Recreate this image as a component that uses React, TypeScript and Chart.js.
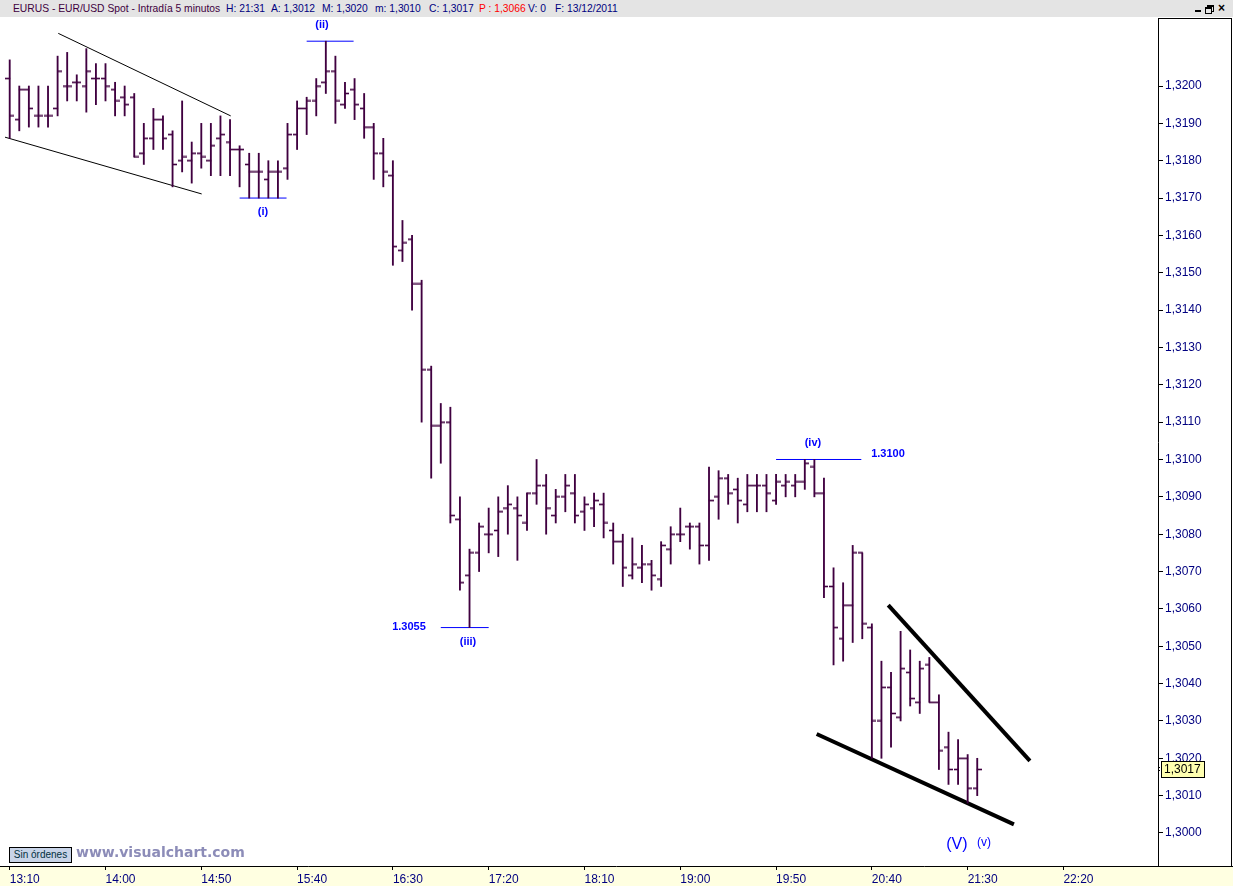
import React, { useEffect, useRef } from 'react';
import { Chart, registerables } from 'chart.js';

Chart.register(...registerables);

// ---- OHLC data (5-minute bars, EUR/USD, 13/12/2011) ----
const opens = [
  1.3202, 1.3191, 1.3199, 1.3192, 1.3192, 1.3194, 1.3200, 1.3201, 1.3200, 1.3202,
  1.3202, 1.3199, 1.3197, 1.3197, 1.3182, 1.3186, 1.3191, 1.3187, 1.3180, 1.3180,
  1.3182, 1.3180, 1.3186, 1.3185, 1.3183, 1.3179, 1.3177, 1.3175, 1.3177, 1.3178,
  1.3187, 1.3194, 1.3196, 1.3201, 1.3204, 1.3195, 1.3199, 1.3194, 1.3189, 1.3182,
  1.3176, 1.3156, 1.3159, 1.3147, 1.3124, 1.3109, 1.3110, 1.3084, 1.3069, 1.3075,
  1.3080, 1.3081, 1.3087, 1.3087, 1.3083, 1.3091, 1.3093, 1.3085, 1.3090, 1.3091,
  1.3086, 1.3087, 1.3088, 1.3081, 1.3078, 1.3069, 1.3071, 1.3072, 1.3068, 1.3076,
  1.3080, 1.3082, 1.3082, 1.3077, 1.3090, 1.3095, 1.3092, 1.3088, 1.3093, 1.3093,
  1.3089, 1.3093, 1.3093, 1.3094, 1.3098, 1.3091, 1.3066, 1.3052, 1.3061, 1.3075,
  1.3055, 1.3030, 1.3039, 1.3031, 1.3043, 1.3035, 1.3045, 1.3035, 1.3023, 1.3017,
  1.3020, 1.3012,
];
const highs = [
  1.3207, 1.3200, 1.3200, 1.3200, 1.3200, 1.3208, 1.3209, 1.3203, 1.3210, 1.3206,
  1.3206, 1.3201, 1.3200, 1.3198, 1.3190, 1.3194, 1.3192, 1.3188, 1.3196, 1.3185,
  1.3190, 1.3190, 1.3192, 1.3191, 1.3184, 1.3182, 1.3182, 1.3180, 1.3180, 1.3190,
  1.3196, 1.3197, 1.3202, 1.3212, 1.3208, 1.3201, 1.3202, 1.3198, 1.3190, 1.3186,
  1.3180, 1.3164, 1.3160, 1.3148, 1.3125, 1.3115, 1.3114, 1.3090, 1.3076, 1.3083,
  1.3087, 1.3090, 1.3093, 1.3090, 1.3091, 1.3100, 1.3096, 1.3092, 1.3096, 1.3096,
  1.3090, 1.3091, 1.3091, 1.3083, 1.3080, 1.3079, 1.3077, 1.3073, 1.3078, 1.3082,
  1.3087, 1.3083, 1.3083, 1.3098, 1.3097, 1.3096, 1.3095, 1.3096, 1.3096, 1.3096,
  1.3096, 1.3096, 1.3096, 1.3100, 1.3100, 1.3095, 1.3071, 1.3067, 1.3077, 1.3075,
  1.3056, 1.3046, 1.3043, 1.3054, 1.3049, 1.3046, 1.3047, 1.3037, 1.3027, 1.3025,
  1.3021, 1.3020,
];
const lows = [
  1.3186, 1.3188, 1.3189, 1.3189, 1.3189, 1.3192, 1.3196, 1.3196, 1.3193, 1.3195,
  1.3196, 1.3192, 1.3192, 1.3181, 1.3179, 1.3183, 1.3183, 1.3173, 1.3177, 1.3174,
  1.3178, 1.3176, 1.3176, 1.3176, 1.3173, 1.3170, 1.3170, 1.3170, 1.3170, 1.3175,
  1.3183, 1.3187, 1.3192, 1.3198, 1.3190, 1.3194, 1.3191, 1.3186, 1.3175, 1.3173,
  1.3152, 1.3153, 1.3140, 1.3110, 1.3095, 1.3099, 1.3083, 1.3065, 1.3055, 1.3070,
  1.3075, 1.3074, 1.3080, 1.3073, 1.3081, 1.3088, 1.3080, 1.3083, 1.3086, 1.3083,
  1.3081, 1.3082, 1.3079, 1.3072, 1.3066, 1.3068, 1.3067, 1.3065, 1.3066, 1.3072,
  1.3078, 1.3076, 1.3072, 1.3073, 1.3084, 1.3088, 1.3083, 1.3086, 1.3086, 1.3086,
  1.3088, 1.3090, 1.3090, 1.3092, 1.3090, 1.3063, 1.3045, 1.3046, 1.3051, 1.3052,
  1.3020, 1.3020, 1.3023, 1.3030, 1.3034, 1.3032, 1.3035, 1.3017, 1.3013, 1.3013,
  1.3008, 1.3010,
];
const closes = [
  1.3192, 1.3199, 1.3194, 1.3192, 1.3192, 1.3204, 1.3200, 1.3201, 1.3204, 1.3202,
  1.3200, 1.3196, 1.3195, 1.3181, 1.3186, 1.3191, 1.3186, 1.3179, 1.3181, 1.3182,
  1.3181, 1.3184, 1.3187, 1.3183, 1.3183, 1.3177, 1.3177, 1.3177, 1.3177, 1.3187,
  1.3194, 1.3196, 1.3200, 1.3204, 1.3196, 1.3198, 1.3195, 1.3189, 1.3182, 1.3177,
  1.3157, 1.3158, 1.3147, 1.3124, 1.3109, 1.3110, 1.3085, 1.3067, 1.3075, 1.3082,
  1.3080, 1.3086, 1.3088, 1.3085, 1.3091, 1.3093, 1.3087, 1.3090, 1.3093, 1.3085,
  1.3088, 1.3089, 1.3083, 1.3078, 1.3071, 1.3072, 1.3072, 1.3069, 1.3077, 1.3080,
  1.3080, 1.3082, 1.3077, 1.3089, 1.3095, 1.3091, 1.3089, 1.3093, 1.3093, 1.3091,
  1.3094, 1.3094, 1.3094, 1.3099, 1.3091, 1.3066, 1.3055, 1.3061, 1.3075, 1.3056,
  1.3030, 1.3039, 1.3032, 1.3044, 1.3036, 1.3044, 1.3035, 1.3022, 1.3017, 1.3020,
  1.3012, 1.3017,
];

// time axis: bar index of each labelled tick and its label
const timeTickBars = [0, 10, 20, 30, 40, 50, 60, 70, 80, 90, 100, 110];
const timeTickLabels = ['13:10', '14:00', '14:50', '15:40', '16:30', '17:20', '18:10', '19:00', '19:50', '20:40', '21:30', '22:20'];
// price axis ticks
const priceTicks = [1.3000, 1.3010, 1.3020, 1.3030, 1.3040, 1.3050, 1.3060, 1.3070, 1.3080, 1.3090, 1.3100,
  1.3110, 1.3120, 1.3130, 1.3140, 1.3150, 1.3160, 1.3170, 1.3180, 1.3190, 1.3200];

// drawn studies (bar index, price)
const thinUpperLine = [{ x: 5.07, y: 1.32141 }, { x: 23.07, y: 1.31920 }];
const thinLowerLine = [{ x: -0.49, y: 1.31863 }, { x: 20.04, y: 1.31711 }];
const thickUpperLine = [{ x: 91.71, y: 1.30610 }, { x: 106.5, y: 1.30193 }];
const thickLowerLine = [{ x: 84.24, y: 1.30265 }, { x: 104.83, y: 1.30023 }];
const levelII = [{ x: 31, y: 1.3212 }, { x: 35.9, y: 1.3212 }];
const levelI = [{ x: 24, y: 1.3170 }, { x: 28.9, y: 1.3170 }];
const levelIII = [{ x: 45, y: 1.3055 }, { x: 50, y: 1.3055 }];
const levelIV = [{ x: 80, y: 1.3100 }, { x: 88.9, y: 1.3100 }];

const labelTexts = ['(ii)', '(i)', '(iii)', '1.3055', '(iv)', '1.3100', '(V)', '(v)'];
const labelAnchors = [
  { x: 32.6, y: 1.32163, size: 11, bold: true },
  { x: 26.44, y: 1.31663, size: 11, bold: true },
  { x: 47.84, y: 1.30511, size: 11, bold: true },
  { x: 41.68, y: 1.30552, size: 11, bold: true },
  { x: 83.85, y: 1.31044, size: 11, bold: true },
  { x: 91.68, y: 1.31015, size: 11, bold: true },
  { x: 98.88, y: 1.29968, size: 16, bold: false },
  { x: 101.7, y: 1.29973, size: 12, bold: false },
];

const X_MIN = -1.013;
const X_MAX = 119.87;
const Y_MIN = 1.299116;
const Y_MAX = 1.321821;

const PURPLE = '#400040';
const BLUE = '#0000ff';
const NAVY = '#000080';
const FONT = '"Liberation Sans", Arial, sans-serif';

function makeTick(side: 'left' | 'right') {
  const c = document.createElement('canvas');
  c.width = 9;
  c.height = 3;
  const ctx = c.getContext('2d')!;
  const x0 = side === 'left' ? 0 : 4;
  ctx.fillStyle = 'rgba(64,0,64,0.3)';
  ctx.fillRect(x0, 0, 5, 1);
  ctx.fillRect(x0, 2, 5, 1);
  ctx.fillStyle = PURPLE;
  ctx.fillRect(x0, 1, 5, 1);
  return c;
}

const fmtPrice = (v: number) => v.toFixed(4).replace('.', ',');

export default function App() {
  const ref = useRef<HTMLCanvasElement | null>(null);

  useEffect(() => {
    if (!ref.current) return;
    const leftTick = makeTick('left');
    const rightTick = makeTick('right');

    const framePlugin = {
      id: 'frame',
      beforeDraw(chart: any) {
        const { ctx, chartArea, width, height } = chart;
        ctx.save();
        ctx.fillStyle = '#ffffff';
        ctx.fillRect(0, 0, width, height);
        ctx.fillStyle = '#ffffe1';
        ctx.fillRect(0, chartArea.bottom, width, height - chartArea.bottom);
        ctx.restore();
      },
      afterDatasetsDraw(chart: any) {
        const { ctx, scales } = chart;
        const xs = scales.x;
        const ys = scales.y;
        ctx.save();
        ctx.textAlign = 'center';
        ctx.textBaseline = 'middle';
        ctx.fillStyle = BLUE;
        labelTexts.forEach((t, i) => {
          const a = labelAnchors[i];
          ctx.font = `${a.bold ? 'bold ' : ''}${a.size}px ${FONT}`;
          ctx.fillText(t, xs.getPixelForValue(a.x), ys.getPixelForValue(a.y));
        });
        ctx.restore();
      },
      afterDraw(chart: any) {
        const { ctx, chartArea, width, scales } = chart;
        const ys = scales.y;
        ctx.save();
        ctx.strokeStyle = '#000';
        ctx.lineWidth = 1;
        ctx.beginPath();
        ctx.moveTo(0, chartArea.bottom + 0.5);
        ctx.lineTo(width, chartArea.bottom + 0.5);
        ctx.moveTo(width - 1.5, chartArea.top);
        ctx.lineTo(width - 1.5, chartArea.bottom);
        ctx.moveTo(chartArea.right, chartArea.top + 0.5);
        ctx.lineTo(width - 1.5, chartArea.top + 0.5);
        ctx.stroke();

        // last price box
        const last = closes[closes.length - 1];
        const y = Math.round(ys.getPixelForValue(last));
        const bx = Math.round(chartArea.right) + 3;
        ctx.fillStyle = '#ffffb0';
        ctx.fillRect(bx, y - 8, 43, 16);
        ctx.strokeRect(bx + 0.5, y - 8 + 0.5, 43, 16);
        ctx.beginPath();
        ctx.moveTo(bx - 1, y - 2);
        ctx.lineTo(bx - 3, y);
        ctx.lineTo(bx - 1, y + 2);
        ctx.stroke();
        ctx.fillStyle = '#000';
        ctx.font = `12px ${FONT}`;
        ctx.textAlign = 'left';
        ctx.textBaseline = 'middle';
        ctx.fillText(fmtPrice(last), bx + 3, y + 1);
        ctx.restore();
      },
    };

    const lineDs = (data: any[], color: string, width: number) => ({
      type: 'line',
      data,
      borderColor: color,
      borderWidth: width,
      pointRadius: 0,
      fill: false,
      tension: 0,
    });

    const chart = new Chart(ref.current, {
      type: 'bar',
      data: {
        datasets: [
          {
            type: 'bar',
            data: lows.map((l, i) => ({ x: i, y: [l, highs[i]] })),
            backgroundColor: PURPLE,
            borderWidth: 0,
            barThickness: 1.2,
          },
          {
            type: 'line',
            data: opens.map((o, i) => ({ x: i, y: o })),
            showLine: false,
            pointStyle: leftTick,
            pointRadius: 3,
            pointHoverRadius: 3,
          },
          {
            type: 'line',
            data: closes.map((c, i) => ({ x: i, y: c })),
            showLine: false,
            pointStyle: rightTick,
            pointRadius: 3,
            pointHoverRadius: 3,
          },
          lineDs(thinUpperLine, '#000', 1),
          lineDs(thinLowerLine, '#000', 1),
          lineDs(thickUpperLine, '#000', 4),
          lineDs(thickLowerLine, '#000', 4),
          lineDs(levelII, BLUE, 1),
          lineDs(levelI, BLUE, 1),
          lineDs(levelIII, BLUE, 1),
          lineDs(levelIV, BLUE, 1),
        ] as any,
      },
      options: {
        animation: false,
        responsive: false,
        devicePixelRatio: 1,
        events: [],
        layout: { padding: { top: 1, right: 2, left: 0, bottom: 0 }, autoPadding: false },
        plugins: { legend: { display: false }, tooltip: { enabled: false }, title: { display: false } },
        scales: {
          x: {
            type: 'linear',
            position: 'bottom',
            min: X_MIN,
            max: X_MAX,
            offset: false,
            grid: { drawOnChartArea: false, drawTicks: true, tickLength: 4, color: '#000', offset: false },
            border: { display: false },
            ticks: {
              align: 'start',
              padding: 2,
              color: NAVY,
              font: { family: FONT, size: 12 },
              maxRotation: 0,
              autoSkip: false,
              callback: (v: any) => {
                const k = timeTickBars.indexOf(Number(v));
                return k >= 0 ? timeTickLabels[k] : '';
              },
            },
            afterBuildTicks: (s: any) => {
              s.ticks = timeTickBars.map((v) => ({ value: v }));
            },
            afterFit: (s: any) => {
              s.height = 20;
              s.paddingLeft = 0;
              s.paddingRight = 0;
              s.paddingTop = 0;
              s.paddingBottom = 0;
            },
          },
          y: {
            type: 'linear',
            position: 'right',
            min: Y_MIN,
            max: Y_MAX,
            grid: { drawOnChartArea: false, drawTicks: true, tickLength: 5, color: '#000' },
            border: { display: true, color: '#000', width: 1 },
            ticks: {
              padding: 2,
              color: NAVY,
              font: { family: FONT, size: 12 },
              callback: (v: any) => fmtPrice(Number(v)),
            },
            afterBuildTicks: (s: any) => {
              s.ticks = priceTicks.map((v) => ({ value: v }));
            },
            afterFit: (s: any) => {
              s.width = 73;
              s.paddingLeft = 0;
              s.paddingRight = 0;
              s.paddingTop = 0;
              s.paddingBottom = 0;
            },
          },
        },
      } as any,
      plugins: [framePlugin],
    });
    return () => chart.destroy();
  }, []);

  const hdr: React.CSSProperties = { position: 'absolute', top: 2, whiteSpace: 'nowrap', lineHeight: '13px' };

  return (
    <div style={{ position: 'fixed', left: 0, top: 0, width: 1233, height: 886, background: '#fff', overflow: 'hidden', fontFamily: FONT }}>
      <div style={{ position: 'absolute', left: 0, top: 0, width: 1233, height: 17, background: '#e4e4e4', fontSize: 10.3 }}>
        <span style={{ ...hdr, left: 13, color: '#400040' }}>EURUS - EUR/USD Spot - Intradía 5 minutos</span>
        <span style={{ ...hdr, left: 226, color: NAVY }}>H: 21:31</span>
        <span style={{ ...hdr, left: 271, color: NAVY }}>A: 1,3012</span>
        <span style={{ ...hdr, left: 322, color: NAVY }}>M: 1,3020</span>
        <span style={{ ...hdr, left: 375, color: NAVY }}>m: 1,3010</span>
        <span style={{ ...hdr, left: 429, color: NAVY }}>C: 1,3017</span>
        <span style={{ ...hdr, left: 479, color: '#ff0000' }}>P : 1,3066</span>
        <span style={{ ...hdr, left: 528, color: NAVY }}>V: 0</span>
        <span style={{ ...hdr, left: 555, color: NAVY }}>F: 13/12/2011</span>
        <div style={{ position: 'absolute', left: 1195, top: 10, width: 6, height: 2, background: '#000' }} />
        <div style={{ position: 'absolute', left: 1207, top: 5, width: 5, height: 4, border: '1px solid #000', borderTopWidth: 2 }} />
        <div style={{ position: 'absolute', left: 1205, top: 7, width: 5, height: 4, border: '1px solid #000', borderTopWidth: 2, background: '#e4e4e4' }} />
        <span style={{ position: 'absolute', left: 1218, top: 1, fontSize: 12, fontWeight: 'bold', lineHeight: '14px' }}>×</span>
      </div>
      <canvas ref={ref} width={1233} height={869} style={{ position: 'absolute', left: 0, top: 17, display: 'block' }} />
      <div style={{ position: 'absolute', left: 9, top: 847, width: 61, height: 14, background: '#c8d4e8', border: '1px solid #000', fontSize: 10, color: '#003040', lineHeight: '14px', textAlign: 'center', whiteSpace: 'nowrap' }}>
        Sin órdenes
      </div>
      <div style={{ position: 'absolute', left: 76, top: 844, fontSize: 14, fontWeight: 'bold', fontFamily: '"DejaVu Sans", sans-serif', color: '#8c8cb8', whiteSpace: 'nowrap', lineHeight: '17px' }}>
        www.visualchart.com
      </div>
    </div>
  );
}
